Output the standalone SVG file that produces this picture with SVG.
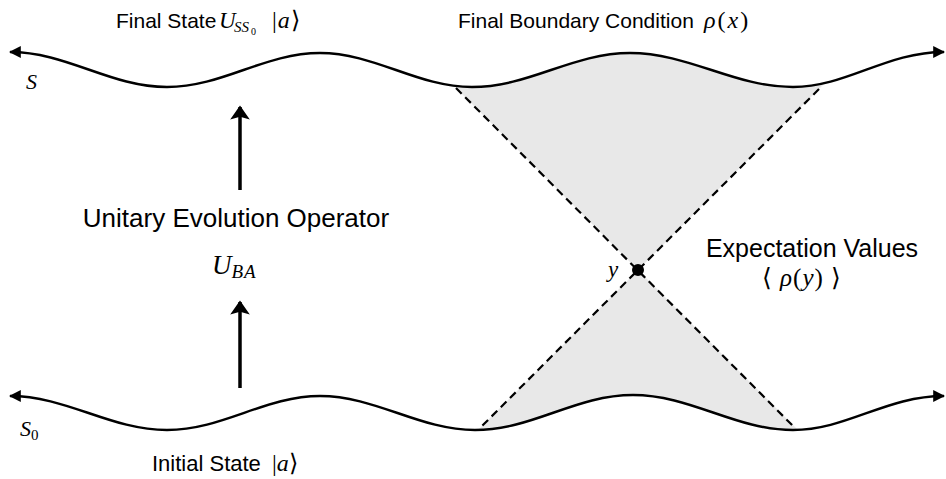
<svg xmlns="http://www.w3.org/2000/svg" width="946" height="479" viewBox="0 0 946 479">
<defs>
<style>
.lbl{font-family:"Liberation Sans",Arial,sans-serif;font-size:21px;fill:#000}
.m{font-family:"Liberation Serif","Times New Roman",serif;font-style:italic;fill:#000}
.r{font-family:"Liberation Serif","Times New Roman",serif;font-style:normal;fill:#000}
.wave{fill:none;stroke:#000;stroke-width:2.4}
.dash{fill:none;stroke:#000;stroke-width:2.2;stroke-dasharray:8 5}
.cone{fill:#e8e8e8}
</style>
<marker id="ah" viewBox="0 0 10 10" refX="9" refY="5" markerWidth="5" markerHeight="5" orient="auto-start-reverse" markerUnits="strokeWidth">
<path d="M0,0 L10,5 L0,10 Z" fill="#000"/>
</marker>
<marker id="bigah" viewBox="0 0 10 14" refX="9" refY="7" markerWidth="7.5" markerHeight="5.6" orient="auto" markerUnits="strokeWidth">
<path d="M0,0 L10,7 L0,14 L2,7 Z" fill="#000"/>
</marker>
<clipPath id="belowTop">
<path d="M10,52 C67,52 110,87 167,87 C223,87 264,53 320,53 C375,53 417,87 472,87 C530,87 572,53 630,53 C689,53 734,87 793,87 C847,87 886,52 940,52 L946,52 L946,479 L0,479 Z"/>
</clipPath>
<clipPath id="aboveBot">
<path d="M10,396 C67,396 110,430 167,430 C223,430 265,396 320,396 C376,396 419,430 475,430 C533,430 575,395 633,395 C691,395 735,430 793,430 C847,430 886,396 940,396 L946,396 L946,0 L0,0 Z"/>
</clipPath>
</defs>

<g id="cone">
<polygon class="cone" clip-path="url(#belowTop)" points="418,50 638,270 858,50"/>
<polygon class="cone" clip-path="url(#aboveBot)" points="448,460 638,270 828,460"/>
</g>

<g id="connectors">
<path id="surface-S" class="wave" marker-start="url(#ah)" marker-end="url(#ah)" d="M10,52 C67,52 110,87 167,87 C223,87 264,53 320,53 C375,53 417,87 472,87 C530,87 572,53 630,53 C689,53 734,87 793,87 C847,87 886,52 944,52"/>
<path id="surface-S0" class="wave" marker-start="url(#ah)" marker-end="url(#ah)" d="M10,396 C67,396 110,430 167,430 C223,430 265,396 320,396 C376,396 419,430 475,430 C533,430 575,395 633,395 C691,395 735,430 793,430 C847,430 886,396 944,396"/>
<line class="dash" x1="456" y1="88" x2="795" y2="428"/>
<line class="dash" x1="819" y1="89" x2="480" y2="428"/>
<line id="arrow-up-1" x1="240" y1="190" x2="240" y2="107" stroke="#000" stroke-width="3.5" marker-end="url(#bigah)"/>
<line id="arrow-up-2" x1="240" y1="388" x2="240" y2="302" stroke="#000" stroke-width="3.5" marker-end="url(#bigah)"/>
</g>

<g id="point-y">
<circle cx="638" cy="270" r="6" fill="#000"/>
<text class="m" x="608" y="277" font-size="23">y</text>
</g>

<g id="label-final-state">
<text class="lbl" x="116" y="28">Final State</text>
<text class="m" x="219" y="28" font-size="23">U</text>
<text class="m" x="234" y="32" font-size="15">SS</text>
<text class="r" x="251" y="35" font-size="10">0</text>
<text class="r" x="272" y="28" font-size="24" letter-spacing="1">|<tspan class="m">a</tspan>⟩</text>
</g>

<g id="label-final-boundary">
<text class="lbl" x="458" y="28">Final Boundary Condition</text>
<text class="m" x="704" y="28" font-size="24" letter-spacing="2">ρ<tspan class="r">(</tspan>x<tspan class="r">)</tspan></text>
</g>

<text class="m" x="26" y="89" font-size="22">S</text>
<text class="m" x="20" y="436" font-size="22">S<tspan class="r" font-size="15" dy="4">0</tspan></text>

<g id="label-unitary">
<text class="lbl" x="236" y="227" text-anchor="middle" style="font-size:26px">Unitary Evolution Operator</text>
<text class="m" x="212" y="274" font-size="27">U<tspan font-size="19" dy="4" letter-spacing="1">BA</tspan></text>
</g>

<g id="label-expectation">
<text class="lbl" x="812" y="257" text-anchor="middle" style="font-size:25px">Expectation Values</text>
<text class="r" x="802" y="286" font-size="25" text-anchor="middle" letter-spacing="1">⟨ <tspan class="m">ρ</tspan>(<tspan class="m">y</tspan>) ⟩</text>
</g>

<g id="label-initial">
<text class="lbl" x="152" y="471" style="font-size:22px">Initial State</text>
<text class="r" x="272" y="471" font-size="24">|<tspan class="m">a</tspan>⟩</text>
</g>
</svg>
